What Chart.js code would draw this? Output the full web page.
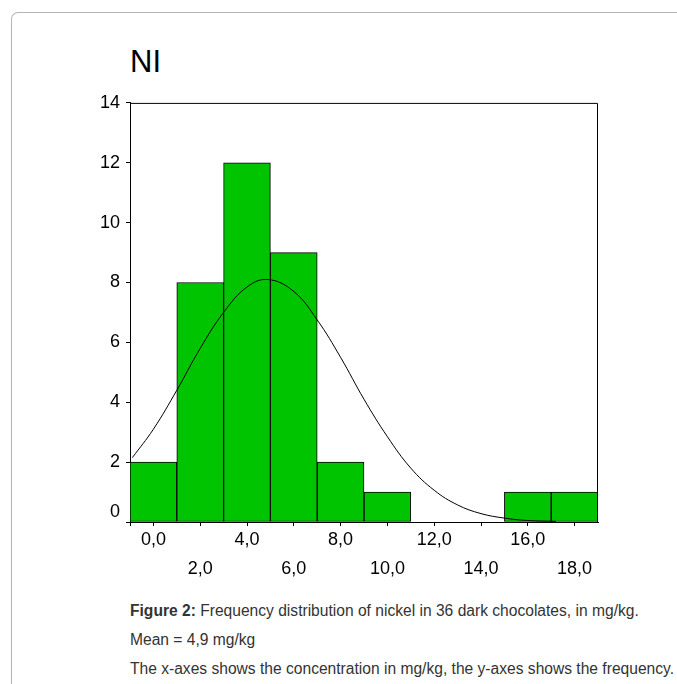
<!DOCTYPE html>
<html>
<head>
<meta charset="utf-8">
<script src="https://cdn.jsdelivr.net/npm/chart.js@4"></script>
<style>
  body { margin: 0; background: #fff; font-family: "Liberation Sans", Arial, sans-serif; }
  #rahmen {
    position: absolute; left: 11px; top: 12px; width: 700px; height: 700px;
    border-top: 1px solid #b4b4b4; border-left: 1px solid #b4b4b4;
    border-top-left-radius: 7px;
  }
  #titel { position: absolute; left: 130px; top: 44px; font-size: 31px; color: #000; line-height: 36px; }
  #wrap { position: absolute; left: 0; top: 87px; width: 677px; height: 508px; }
  #legende {
    position: absolute; left: 130px; top: 596px; font-size: 15.6px; color: #333; line-height: 29px;
    white-space: nowrap;
  }
</style>
</head>
<body>
<div id="rahmen"></div>
<div id="titel">NI</div>
<div id="wrap"><canvas id="chart" width="677" height="508"></canvas></div>
<div id="legende">
  <div><b>Figure 2:</b> Frequency distribution of nickel in 36 dark chocolates, in mg/kg.</div>
  <div>Mean = 4,9 mg/kg</div>
  <div>The x-axes shows the concentration in mg/kg, the y-axes shows the frequency.</div>
</div>
<script>
// -> Daten
const binCenters = [0, 2, 4, 6, 8, 10, 12, 14, 16, 18];
const frequencies = [2, 8, 12, 9, 2, 1, 0, 0, 1, 1];

// Normalverteilungskurve
const curveX = [-0.9, 0, 1, 2, 3, 4, 4.9, 6, 7, 8, 9, 10, 11, 12, 13, 14, 15, 16, 17.2];
const curveY = [2.15, 3.1, 4.4, 5.8, 7.0, 7.85, 8.1, 7.7, 6.75, 5.5, 4.1, 2.85, 1.8, 1.06, 0.57, 0.28, 0.13, 0.05, 0.02];

const xTickValues = [0, 2, 4, 6, 8, 10, 12, 14, 16, 18];
const xTickLabels = ["0,0", "2,0", "4,0", "6,0", "8,0", "10,0", "12,0", "14,0", "16,0", "18,0"];
const yTickValues = [0, 2, 4, 6, 8, 10, 12, 14];

const barData = binCenters.map((x, i) => ({ x: x, y: frequencies[i] }));
const curveData = curveX.map((x, i) => ({ x: x, y: curveY[i] }));

// -> Rahmen oben und rechts
const boxPlugin = {
  id: "box",
  afterDatasetsDraw(chart) {
    const a = chart.chartArea;
    const ctx = chart.ctx;
    ctx.save();
    ctx.strokeStyle = "#000";
    ctx.lineWidth = 1;
    ctx.beginPath();
    ctx.moveTo(a.left, a.top + 0.5);
    ctx.lineTo(a.right - 0.5, a.top + 0.5);
    ctx.lineTo(a.right - 0.5, a.bottom);
    ctx.stroke();
    // kleiner Strich unten links (y-Achse ragt etwas raus)
    ctx.beginPath();
    ctx.moveTo(a.left + 0.5, a.bottom);
    ctx.lineTo(a.left + 0.5, a.bottom + 4);
    ctx.stroke();
    ctx.restore();
  }
};

const tickFont = { family: "'Liberation Sans', Arial, sans-serif", size: 18 };

const canvas = document.querySelector("#chart");
const chart = new Chart(canvas, {
  type: "bar",
  data: {
    datasets: [
      {
        type: "line",
        data: curveData,
        borderColor: "#000",
        borderWidth: 1,
        pointRadius: 0,
        tension: 0.4,
        fill: false,
        order: 0
      },
      {
        type: "bar",
        data: barData,
        backgroundColor: "rgb(0, 196, 0)",
        borderColor: "#000",
        borderWidth: 1,
        borderSkipped: false,
        barPercentage: 1,
        categoryPercentage: 1,
        order: 1
      }
    ]
  },
  options: {
    responsive: false,
    animation: false,
    layout: { padding: { top: 10, right: 79, left: 0, bottom: 0 } },
    plugins: {
      legend: { display: false },
      tooltip: { enabled: false }
    },
    scales: {
      x: {
        type: "linear",
        min: -1,
        max: 19,
        offset: false,
        grid: { drawOnChartArea: false, drawTicks: true, tickLength: 4, color: "#000", offset: false },
        border: { display: true, color: "#000", width: 1 },
        afterBuildTicks: (scale) => {
          scale.ticks = xTickValues.map((v) => ({ value: v }));
        },
        afterFit: (scale) => { scale.height = 73; },
        ticks: {
          autoSkip: false,
          maxRotation: 0,
          padding: 0,
          color: "#000",
          font: Object.assign({}, tickFont, { lineHeight: 1.61 }),
          callback: (value) => {
            const i = xTickValues.indexOf(value);
            const label = xTickLabels[i];
            return i % 2 === 0 ? [label] : ["", label];
          }
        }
      },
      y: {
        min: 0,
        max: 14,
        grid: { drawOnChartArea: false, drawTicks: true, tickLength: 4, color: "#000" },
        border: { display: true, color: "#000", width: 1 },
        afterBuildTicks: (scale) => {
          scale.ticks = yTickValues.map((v) => ({ value: v }));
        },
        afterFit: (scale) => { scale.width = 130; },
        ticks: {
          padding: 6,
          color: "#000",
          font: Object.assign({}, tickFont, { lineHeight: 1.1 }),
          // "0" sitzt im Original etwas über der Achse
          callback: (value) => value === 0 ? ["0", ""] : String(value)
        }
      }
    }
  },
  plugins: [boxPlugin]
});
</script>
</body>
</html>
